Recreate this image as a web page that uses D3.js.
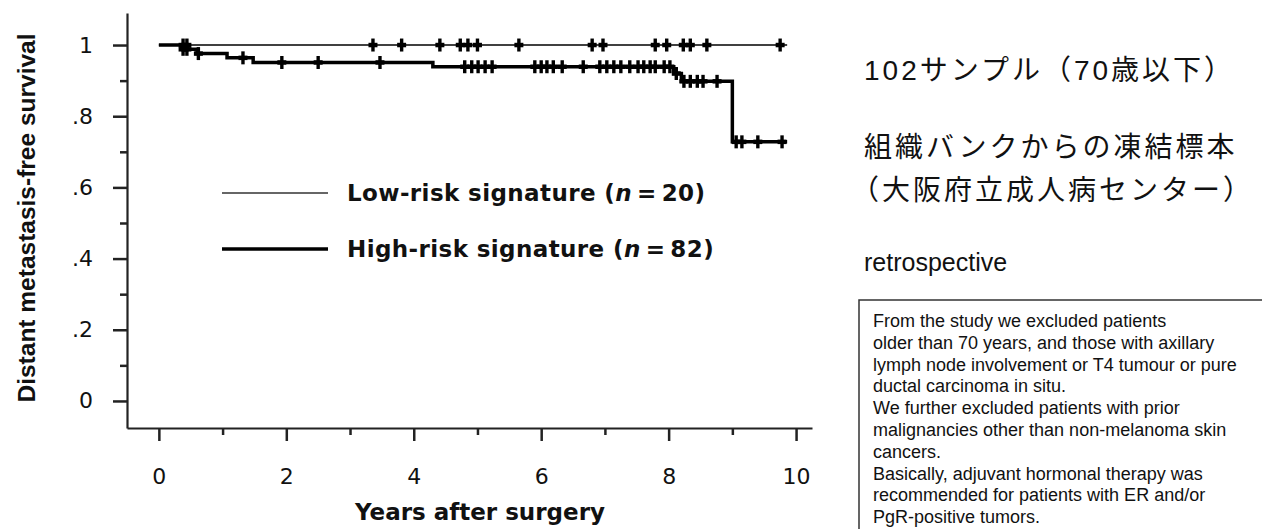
<!DOCTYPE html>
<html>
<head>
<meta charset="utf-8">
<script src="https://cdn.jsdelivr.net/npm/d3@7"></script>
<style>
  body { margin: 0; background: #fff; }
  svg { display: block; }
  .chart text { font-family: "DejaVu Sans", Arial, sans-serif; fill: #111; }
  .note text { font-family: "Liberation Sans", Arial, "Noto Sans CJK JP", sans-serif; fill: #111; }
</style>
</head>
<body>
<script>
// axis ticks
var xTicks = [0, 2, 4, 6, 8, 10];
var xMinor = [1, 3, 5, 7, 9];
var yTicks = [0, 0.2, 0.4, 0.6, 0.8, 1];
var yTickLabels = ["0", ".2", ".4", ".6", ".8", "1"];
var yMinor = [0.1, 0.3, 0.5, 0.7, 0.9];

// low-risk group: no events
var lowStepTimes = [0];
var lowStepSurv = [1];
var lowEnd = 9.86;
var lowCensor = [0.38, 0.44, 3.36, 3.81, 4.41, 4.73, 4.85, 5.0, 5.65, 6.8, 6.97, 7.79, 7.97, 8.23, 8.34, 8.6, 9.75];

// high-risk group
var highStepTimes = [0, 0.36, 0.6, 1.07, 1.48, 4.3, 8.08, 8.2, 9.0];
var highStepSurv = [1, 0.988, 0.976, 0.964, 0.951, 0.939, 0.92, 0.898, 0.728];
var highEnd = 9.86;
var highCensor = [0.38, 0.44, 0.62, 1.32, 1.93, 2.5, 3.47, 4.8, 4.91, 5.01, 5.12, 5.23, 5.9, 6.0, 6.09, 6.19,
  6.33, 6.66, 6.92, 7.03, 7.14, 7.25, 7.39, 7.52, 7.61, 7.71, 7.79, 7.93, 8.02, 8.12, 8.24, 8.34, 8.45,
  8.54, 8.76, 9.06, 9.15, 9.4, 9.78];

var legendLabels = ["Low-risk signature (", "High-risk signature ("];
var legendN = ["20", "82"];

var noteLines = ["102サンプル（70歳以下）", "組織バンクからの凍結標本", "（大阪府立成人病センター）"];
var noteWord = "retrospective";
var boxLines = [
  "From the study we excluded patients",
  "older than 70 years, and those with axillary",
  "lymph node involvement or T4 tumour or pure",
  "ductal carcinoma in situ.",
  "We further excluded patients with prior",
  "malignancies other than non-melanoma skin",
  "cancers.",
  "Basically, adjuvant hormonal therapy was",
  "recommended for patients with ER and/or",
  "PgR-positive tumors."
];

var svg = d3.select("body").append("svg")
  .attr("width", 1262).attr("height", 529);

var chart = svg.append("g").attr("class", "chart");

var x = d3.scaleLinear().domain([-0.5, 10.25]).range([127, 812]);
var y = d3.scaleLinear().domain([-0.076, 1.09]).range([428, 13]);

function steps(times, surv, end) {
  var pts = times.map(function(t, i) { return [t, surv[i]]; });
  pts.push([end, surv[surv.length - 1]]);
  return pts;
}
function survAt(times, surv, t) {
  var s = surv[0];
  for (var i = 0; i < times.length; i++) { if (times[i] <= t) s = surv[i]; }
  return s;
}

// axes
chart.append("g").attr("transform", "translate(127,0)")
  .call(d3.axisLeft(y).tickValues(yTicks).tickSize(14).tickSizeOuter(0).tickPadding(20)
    .tickFormat(function(d, i) { return yTickLabels[i]; }));
chart.append("g").attr("transform", "translate(127,0)")
  .call(d3.axisLeft(y).tickValues(yMinor).tickSize(7).tickFormat(""))
  .select(".domain").remove();

chart.append("g").attr("transform", "translate(0,428)")
  .call(d3.axisBottom(x).tickValues(xTicks).tickSize(13).tickSizeOuter(0).tickPadding(27));
chart.append("g").attr("transform", "translate(0,428)")
  .call(d3.axisBottom(x).tickValues(xMinor).tickSize(7).tickFormat(""))
  .select(".domain").remove();

chart.selectAll(".domain").attr("stroke", "#222").attr("stroke-width", 2.2);
chart.selectAll(".tick line").attr("stroke", "#222").attr("stroke-width", 2.5);
chart.selectAll(".tick text").attr("font-size", 22).attr("font-family", null).attr("fill", "#222");

chart.append("text")
  .attr("transform", "translate(35,218) rotate(-90)")
  .attr("text-anchor", "middle")
  .style("font-family", "'Liberation Sans', Arial, sans-serif")
  .attr("font-size", 24.5).attr("font-weight", "bold")
  .text("Distant metastasis-free survival");

chart.append("text")
  .attr("x", 480).attr("y", 520)
  .attr("text-anchor", "middle")
  .attr("font-size", 23).attr("font-weight", "bold")
  .text("Years after surgery");

// curves
var line = d3.line().x(function(d) { return x(d[0]); }).y(function(d) { return y(d[1]); })
  .curve(d3.curveStepAfter);

chart.append("path")
  .datum(steps(highStepTimes, highStepSurv, highEnd))
  .attr("fill", "none").attr("stroke", "#000").attr("stroke-width", 3.5)
  .attr("d", line);
chart.append("path")
  .datum(steps(lowStepTimes, lowStepSurv, lowEnd))
  .attr("fill", "none").attr("stroke", "#000").attr("stroke-width", 1.6)
  .attr("d", line);

// censor marks: a bar plus a short fat arm
function drawCensor(times, stimes, surv) {
  var g = chart.append("g").selectAll("g")
    .data(times).enter().append("g")
    .attr("transform", function(t) { return "translate(" + x(t) + "," + y(survAt(stimes, surv, t)) + ")"; });
  g.append("path").attr("d", "M0,-6.5V6.5")
    .attr("stroke", "#000").attr("stroke-width", 3.4);
  g.append("path").attr("d", "M-4.5,0H4.5")
    .attr("stroke", "#000").attr("stroke-width", 4.5);
}
drawCensor(lowCensor, lowStepTimes, lowStepSurv);
drawCensor(highCensor, highStepTimes, highStepSurv);

// legend
var legend = chart.append("g");
[0, 1].forEach(function(i) {
  var ly = 193 + i * 56;
  legend.append("line").attr("x1", 222).attr("x2", 328).attr("y1", ly).attr("y2", ly)
    .attr("stroke", i ? "#000" : "#333").attr("stroke-width", i ? 3.5 : 1.3);
  var t = legend.append("text").attr("x", 347).attr("y", ly + 8)
    .attr("font-size", 23).attr("font-weight", "bold").attr("letter-spacing", 0.4);
  t.append("tspan").text(legendLabels[i]);
  t.append("tspan").attr("font-style", "italic").text("n");
  t.append("tspan").text("\u2009=\u2009" + legendN[i] + ")");
});

// notes on the right
var note = svg.append("g").attr("class", "note");
note.selectAll("text.jp").data(noteLines).enter().append("text")
  .attr("class", "jp")
  .attr("x", function(d, i) { return i === 2 ? 851 : 864; })
  .attr("y", function(d, i) { return [80, 157, 200][i]; })
  .attr("font-size", 28).attr("letter-spacing", 3)
  .text(function(d) { return d; });

note.append("text").attr("x", 864).attr("y", 271).attr("font-size", 25).text(noteWord);

note.append("rect").attr("x", 859).attr("y", 300).attr("width", 440).attr("height", 300)
  .attr("fill", "none").attr("stroke", "#333").attr("stroke-width", 1.5);

note.append("g").selectAll("text").data(boxLines).enter().append("text")
  .attr("x", 873)
  .attr("y", function(d, i) { return 327 + i * 21.8; })
  .attr("font-size", 18)
  .text(function(d) { return d; });
</script>
</body>
</html>
